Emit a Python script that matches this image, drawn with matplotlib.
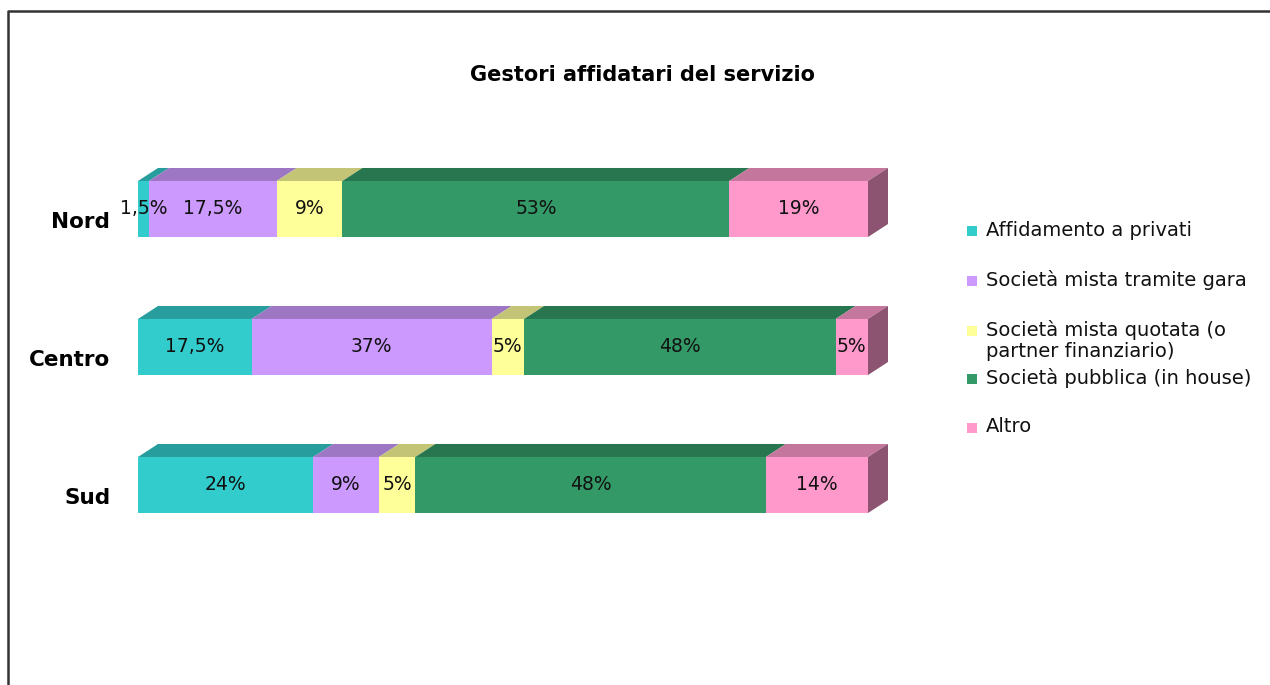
import numpy as np
import matplotlib
matplotlib.use('Agg')
import matplotlib.pyplot as plt
from matplotlib.patches import Polygon, Rectangle
from matplotlib.lines import Line2D
from matplotlib.colors import to_rgb
from matplotlib.transforms import ScaledTranslation

regions = ['Nord', 'Centro', 'Sud']
series = ['Affidamento a privati',
          'Società mista tramite gara',
          'Società mista quotata (o\npartner finanziario)',
          'Società pubblica (in house)',
          'Altro']
affidamento = [1.5, 17.5, 24]
mista_gara = [17.5, 37, 9]
mista_quotata = [9, 5, 5]
pubblica = [53, 48, 48]
altro = [19, 5, 14]
colors = ['#33CCCC', '#CC99FF', '#FFFF99', '#339966', '#FF99CC']

W, H = 1270, 685
fig = plt.figure(figsize=(W / 100, H / 100), dpi=100)
fig.patch.set_facecolor('white')
ax = fig.add_axes([138 / W, 131 / H, 730 / W, 414 / H])
ax.set_xlim(0, 100)
ax.set_ylim(-0.5, 2.5)

# 100% stacked: each row rescaled to its total
values = np.array([affidamento, mista_gara, mista_quotata, pubblica, altro], dtype=float)
shares = values / values.sum(axis=0) * 100
ypos = np.arange(len(regions))[::-1]
bar_h = 0.406

# depth of the fake 3d box, 20px right and 13px up
x_unit = ax.transData.transform((1, 0))[0] - ax.transData.transform((0, 0))[0]
y_unit = ax.transData.transform((0, 1))[1] - ax.transData.transform((0, 0))[1]
dx, dy = 20 / x_unit, 13 / y_unit


def shade(c, f):
    return tuple(v * f for v in to_rgb(c))


left = np.zeros(len(regions))
for i, name in enumerate(series):
    w = shares[i]
    ax.barh(ypos, w, left=left, height=bar_h, color=colors[i], zorder=2)
    for j, y in enumerate(ypos):
        top = y + bar_h / 2
        l, r = left[j], left[j] + w[j]
        ax.add_patch(Polygon([(l, top), (r, top), (r + dx, top + dy), (l + dx, top + dy)],
                             closed=True, facecolor=shade(colors[i], 0.77),
                             edgecolor='none', zorder=1, clip_on=False))
        lbl = f'{values[i, j]:g}%'.replace('.', ',')
        ax.text((l + r) / 2, y, lbl, ha='center', va='center',
                fontsize=13.5, color='#111111', zorder=3)
    left += w

# right side face of the last segment
for y, r in zip(ypos, left):
    b, t = y - bar_h / 2, y + bar_h / 2
    ax.add_patch(Polygon([(r, b), (r, t), (r + dx, t + dy), (r + dx, b + dy)],
                         closed=True, facecolor=shade(colors[-1], 0.55),
                         edgecolor='none', zorder=1, clip_on=False))

ax.set_yticks(ypos, labels=regions)
ax.tick_params(axis='y', length=0, pad=20)
for lab in ax.get_yticklabels():
    lab.set_fontweight('bold')
    lab.set_fontsize(15.5)
    lab.set_transform(lab.get_transform() + ScaledTranslation(0, -0.11, fig.dpi_scale_trans))
ax.set_xticks([])
for s in ax.spines.values():
    s.set_visible(False)
ax.patch.set_visible(False)

fig.text(642 / W, 1 - 75 / H, 'Gestori affidatari del servizio',
         ha='center', va='center', fontsize=15, fontweight='bold')

# legend drawn by hand: marker sits on the first line of each entry
leg_y = [231, 281, 331, 379, 428]
for i, name in enumerate(series):
    yy = leg_y[i]
    fig.patches.append(Rectangle((967 / W, 1 - (yy + 5) / H), 10 / W, 10 / H,
                                 transform=fig.transFigure, figure=fig,
                                 facecolor=colors[i], edgecolor='none'))
    fig.text(986 / W, 1 - (yy - 10.5) / H, name, ha='left', va='top',
             fontsize=14, color='#111111', linespacing=1.1)

# frame, only top and left edges show
fig.add_artist(Line2D([8 / W, 8 / W, 1], [0, 1 - 11 / H, 1 - 11 / H],
                      transform=fig.transFigure, color='#333333', lw=1.8))

fig.savefig('out.png', dpi=100)
